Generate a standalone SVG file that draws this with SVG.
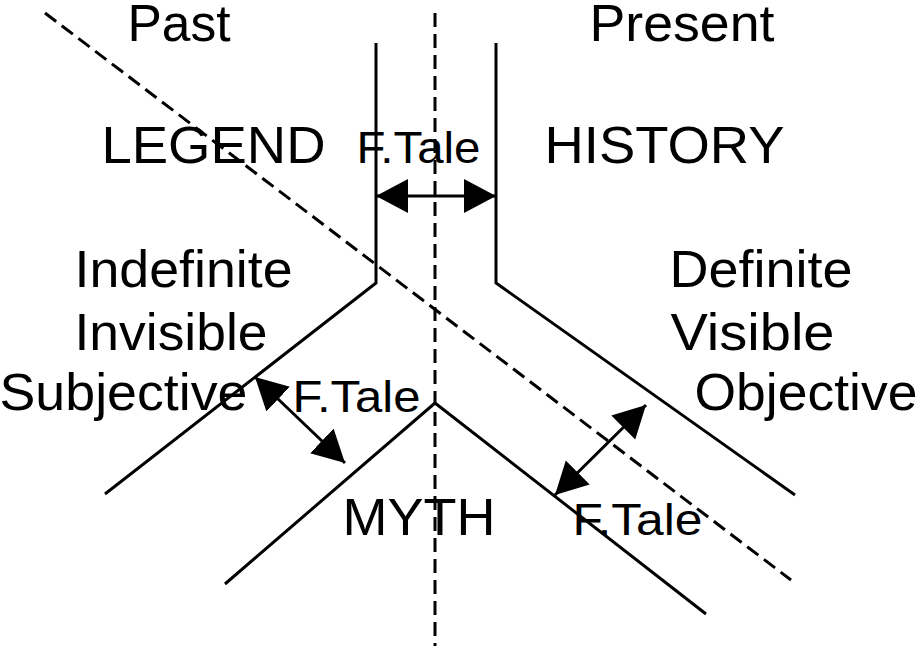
<svg xmlns="http://www.w3.org/2000/svg" width="917" height="646" viewBox="0 0 917 646">
<style>
.solid{fill:none;stroke:#000;stroke-width:3;stroke-linejoin:miter}
.dash{fill:none;stroke:#000;stroke-width:3;stroke-dasharray:14 7}
.arrow{stroke:#000;stroke-width:3;marker-start:url(#ah);marker-end:url(#ah)}
.big{font-family:"Liberation Sans",Arial,sans-serif;font-size:52px;fill:#000;text-anchor:middle}
.small{font-family:"Liberation Sans",Arial,sans-serif;font-size:44px;fill:#000;text-anchor:middle}
</style>
<defs>
<marker id="ah" markerUnits="userSpaceOnUse" markerWidth="34" markerHeight="36" refX="32" refY="17" orient="auto-start-reverse">
<path d="M0,0 L32,17 L0,34 Z" fill="#000"/>
</marker>
</defs>
<rect width="917" height="646" fill="#fff"/>
<g id="guides">
<line class="dash" x1="45" y1="13" x2="791" y2="580"/>
<line class="dash" x1="435" y1="13" x2="435" y2="646"/>
</g>
<g id="channels">
<polyline class="solid" points="376,43 376,283 105,494"/>
<polyline class="solid" points="496,43 496,283 795,495"/>
<polyline class="solid" points="225,584 435,403 706,614"/>
</g>
<g id="connectors">
<line class="arrow" x1="376" y1="196" x2="496" y2="196"/>
<line class="arrow" x1="255" y1="377" x2="345" y2="463"/>
<line class="arrow" x1="646" y1="405" x2="555" y2="495"/>
</g>
<g id="past"><text class="big" x="179" y="41" textLength="103" lengthAdjust="spacingAndGlyphs">Past</text></g>
<g id="present"><text class="big" x="682" y="41" textLength="185" lengthAdjust="spacingAndGlyphs">Present</text></g>
<g id="legend"><text class="big" x="213.5" y="163" textLength="224" lengthAdjust="spacingAndGlyphs">LEGEND</text></g>
<g id="ftale-top"><text class="small" x="418.5" y="163" textLength="124" lengthAdjust="spacingAndGlyphs">F.Tale</text></g>
<g id="history"><text class="big" x="664.5" y="163" textLength="240" lengthAdjust="spacingAndGlyphs">HISTORY</text></g>
<g id="left-attrs">
<text class="big" x="183.5" y="287" textLength="218" lengthAdjust="spacingAndGlyphs">Indefinite</text>
<text class="big" x="171" y="350" textLength="193" lengthAdjust="spacingAndGlyphs">Invisible</text>
<text class="big" x="123.5" y="410" textLength="248" lengthAdjust="spacingAndGlyphs">Subjective</text>
</g>
<g id="right-attrs">
<text class="big" x="761" y="287" textLength="183" lengthAdjust="spacingAndGlyphs">Definite</text>
<text class="big" x="752.5" y="350" textLength="164" lengthAdjust="spacingAndGlyphs">Visible</text>
<text class="big" x="806" y="410" textLength="223" lengthAdjust="spacingAndGlyphs">Objective</text>
</g>
<g id="ftale-mid"><text class="small" x="356.5" y="412" textLength="128" lengthAdjust="spacingAndGlyphs">F.Tale</text></g>
<g id="myth"><text class="big" x="419" y="535" textLength="153" lengthAdjust="spacingAndGlyphs">MYTH</text></g>
<g id="ftale-bottom"><text class="small" x="637.5" y="535" textLength="130" lengthAdjust="spacingAndGlyphs">F.Tale</text></g>
</svg>
